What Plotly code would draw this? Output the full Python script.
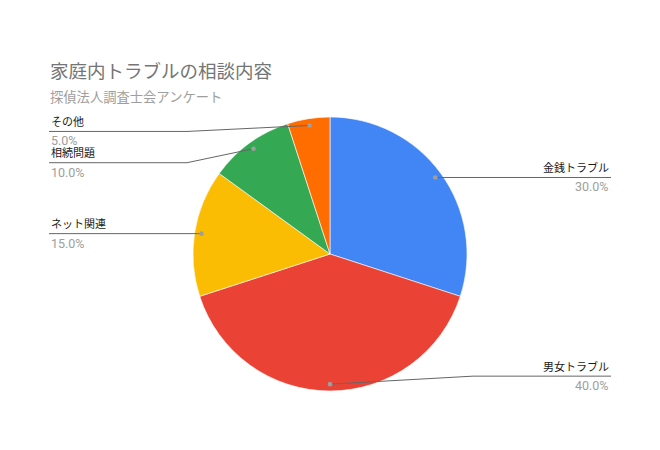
import math
import plotly.graph_objects as go

# data
labels = ["金銭トラブル", "男女トラブル", "ネット関連", "相続問題", "その他"]
values = [30, 40, 15, 10, 5]
colors = ["#4285F4", "#EA4335", "#FBBC04", "#34A853", "#FF6D01"]

title = "家庭内トラブルの相談内容"
subtitle = "探偵法人調査士会アンケート"

# layout constants (screen pixels of the page)
W, H = 660, 450
OFF = 8                      # page body margin, plot sits 8px in
CX, CY, R = 330, 254, 137
FONT = "Roboto, 'Noto Sans CJK JP', sans-serif"
label_shift = [0, -8, 0, 14, 6]   # nudge label rows so they don't collide


def px(x):
    return (x - OFF) / W


def py(y):
    return 1 - (y - OFF) / H


fig = go.Figure(go.Pie(
    labels=labels,
    values=values,
    sort=False,
    direction="clockwise",
    rotation=0,
    marker=dict(colors=colors, line=dict(color="white", width=0.6)),
    textinfo="none",
    hoverinfo="label+percent",
    showlegend=False,
    domain=dict(x=[px(CX - R), px(CX + R)], y=[py(CY + R), py(CY - R)]),
))

shapes = []
annotations = []
total = sum(values)
cum = 0
for i, (lab, v) in enumerate(zip(labels, values)):
    mid = (cum + v / 2) / total
    cum += v
    th = 2 * math.pi * mid
    dx = CX + 0.95 * R * math.sin(th)
    dy = CY - 0.95 * R * math.cos(th)
    ly = dy + label_shift[i]
    right = math.sin(th) > 0
    elbow = 473 if right else 187
    edge = 611 if right else 49
    line = dict(color="#666666", width=1)
    shapes.append(dict(type="line", xref="paper", yref="paper",
                       x0=px(dx), y0=py(dy), x1=px(elbow), y1=py(ly), line=line))
    shapes.append(dict(type="line", xref="paper", yref="paper",
                       x0=px(elbow), y0=py(ly), x1=px(edge), y1=py(ly), line=line))
    shapes.append(dict(type="circle", xref="paper", yref="paper",
                       x0=px(dx - 2.3), x1=px(dx + 2.3), y0=py(dy + 2.3), y1=py(dy - 2.3),
                       fillcolor="#9e9e9e", line=dict(width=0)))
    xanchor = "right" if right else "left"
    annotations.append(dict(text=lab, x=px(edge), y=py(ly - 0.5), xref="paper", yref="paper",
                            xanchor=xanchor, yanchor="bottom", showarrow=False,
                            font=dict(family=FONT, size=11, color="#1a1a1a")))
    annotations.append(dict(text=f"{v / total * 100:.1f}%", x=px(edge), y=py(ly),
                            xref="paper", yref="paper", xanchor=xanchor, yanchor="top",
                            showarrow=False, font=dict(family=FONT, size=12.5, color="#9e9e9e")))

annotations.append(dict(text=title, x=px(48), y=py(72), xref="paper", yref="paper",
                        xanchor="left", yanchor="middle", showarrow=False,
                        font=dict(family=FONT, size=18.5, color="#757575")))
annotations.append(dict(text=subtitle, x=px(48), y=py(97), xref="paper", yref="paper",
                        xanchor="left", yanchor="middle", showarrow=False,
                        font=dict(family=FONT, size=13.3, color="#9e9e9e")))

fig.update_layout(
    width=W, height=H,
    margin=dict(l=0, r=0, t=0, b=0),
    paper_bgcolor="white",
    plot_bgcolor="white",
    shapes=shapes,
    annotations=annotations,
)

fig.write_html("out.html")
